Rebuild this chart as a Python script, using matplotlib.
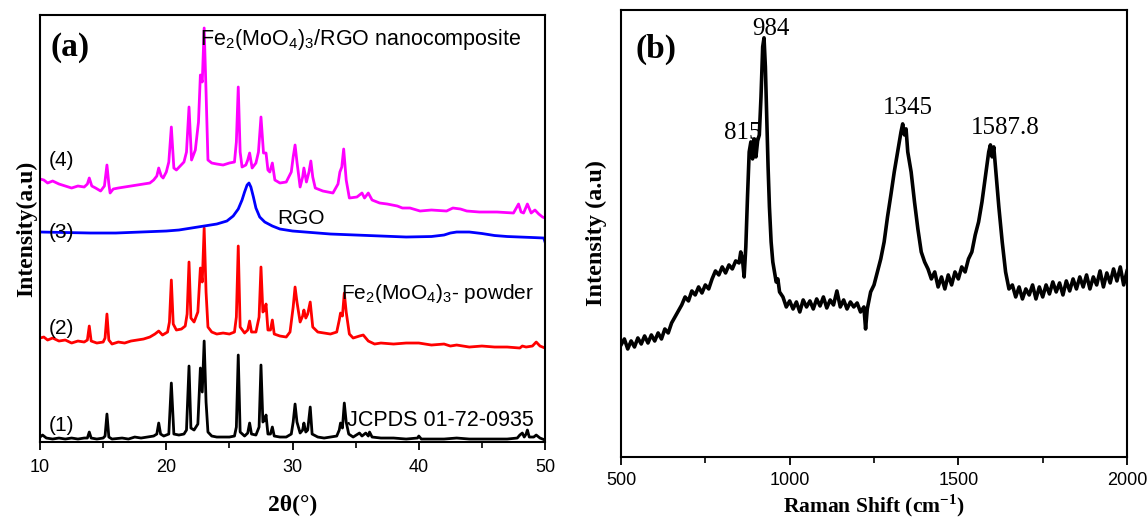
import matplotlib
matplotlib.use("Agg")
import matplotlib.pyplot as plt
from matplotlib.ticker import MultipleLocator

plt.rcParams['mathtext.fontset'] = 'custom'
plt.rcParams['mathtext.rm'] = 'Liberation Sans'
plt.rcParams['mathtext.it'] = 'Liberation Sans:italic'
plt.rcParams['mathtext.bf'] = 'Liberation Sans:bold'

# ---------------- Panel (a): XRD data ----------------
jcpds_theta = [10.0, 10.2, 10.5, 11.0, 11.5, 12.0, 12.5, 13.0, 13.5, 13.75, 13.9, 14.05, 14.5, 15.0, 15.15,
               15.3, 15.45, 15.7, 16.5, 17.0, 17.5, 18.0, 18.5, 19.0, 19.25, 19.4, 19.55, 19.8, 20.2, 20.4,
               20.6, 21.0, 21.4, 21.6, 21.8, 21.95, 22.2, 22.5, 22.7, 22.85, 23.0, 23.15, 23.3, 23.6, 24.0,
               24.5, 25.0, 25.4, 25.55, 25.7, 25.85, 26.2, 26.45, 26.6, 26.75, 27.1, 27.35, 27.5, 27.65, 27.8,
               27.9, 28.05, 28.25, 28.4, 28.55, 29.0, 29.5, 29.9, 30.05, 30.2, 30.35, 30.6, 30.8, 30.9, 31.05,
               31.2, 31.4, 31.55, 32.0, 32.5, 33.0, 33.5, 33.7, 33.8, 33.95, 34.1, 34.25, 34.45, 34.8, 35.3,
               35.5, 35.8, 36.0, 36.1, 36.3, 37.0, 38.0, 39.0, 39.9, 40.0, 40.2, 41.0, 42.0, 43.0, 44.0,
               45.0, 46.0, 47.0, 47.8, 48.0, 48.2, 48.35, 48.5, 48.6, 48.75, 49.1, 49.3, 49.6, 50.0]
jcpds_int = [5, 7, 4, 3, 4, 3, 4, 3, 4, 4, 10, 4, 3, 4, 6,
             28, 5, 3, 4, 3, 5, 4, 5, 6, 8, 19, 8, 6, 8, 59,
             8, 7, 8, 12, 76, 14, 12, 18, 74, 50, 101, 40, 10, 6, 5,
             5, 5, 6, 15, 87, 10, 6, 9, 19, 8, 7, 15, 77, 20, 22,
             27, 8, 8, 15, 6, 5, 5, 8, 20, 38, 20, 9, 12, 19, 10,
             12, 35, 8, 5, 4, 5, 6, 12, 19, 14, 39, 20, 8, 5, 9,
             6, 9, 6, 10, 5, 4, 4, 3, 4, 6, 3, 3, 3, 4, 3,
             3, 3, 3, 4, 7, 9, 5, 8, 12, 5, 5, 7, 4, 2]

powder_theta = [10.0, 10.3, 10.6, 11.0, 11.5, 12.0, 12.5, 13.0, 13.5, 13.75, 13.9, 14.05, 14.5, 15.0, 15.15,
                15.3, 15.45, 15.7, 16.2, 16.7, 17.2, 17.7, 18.2, 18.7, 19.1, 19.4, 19.7, 20.1, 20.25, 20.4,
                20.55, 20.8, 21.2, 21.5, 21.65, 21.8, 21.95, 22.2, 22.5, 22.7, 22.85, 23.0, 23.15, 23.3, 23.6,
                24.0, 24.5, 25.0, 25.4, 25.55, 25.7, 25.85, 26.2, 26.45, 26.6, 26.75, 27.1, 27.35, 27.5, 27.65,
                27.8, 27.9, 28.05, 28.25, 28.4, 28.55, 29.0, 29.5, 29.8, 30.05, 30.2, 30.35, 30.6, 30.8, 30.9,
                31.05, 31.2, 31.4, 31.6, 32.0, 32.5, 33.0, 33.5, 33.7, 33.8, 33.95, 34.1, 34.25, 34.5, 34.8,
                35.3, 35.6, 36.0, 36.5, 37.0, 38.0, 39.0, 40.0, 41.0, 42.0, 42.5, 43.0, 44.0, 45.0, 46.0,
                47.0, 48.0, 48.2, 48.5, 49.0, 49.3, 49.6, 50.0]
powder_int = [104, 105, 102, 104, 101, 102, 99, 101, 100, 102, 116, 101, 99, 100, 104,
              128, 102, 98, 100, 99, 101, 102, 103, 105, 108, 111, 107, 110, 120, 162,
              118, 112, 113, 116, 128, 180, 124, 120, 130, 174, 160, 214, 150, 115, 110,
              108, 109, 108, 110, 125, 196, 115, 109, 112, 121, 110, 110, 125, 175, 130,
              132, 138, 112, 112, 122, 108, 106, 105, 110, 135, 155, 140, 120, 126, 132,
              124, 128, 140, 115, 110, 109, 108, 110, 122, 129, 126, 149, 130, 108, 104,
              106, 107, 101, 98, 99, 98, 99, 99, 97, 98, 96, 97, 95, 96, 95,
              95, 94, 96, 95, 96, 100, 96, 94]

rgo_theta = [10, 12, 14, 16, 18, 20, 21, 22, 23, 24, 24.8, 25.3, 25.7, 26.0, 26.2, 26.4, 26.55, 26.7,
             26.9, 27.1, 27.4, 27.8, 28.4, 29, 30, 31, 32, 33, 35, 37, 39, 41, 42, 42.5, 43, 44, 45,
             46, 47, 48, 49, 49.9, 50]
rgo_int = [210, 209.5, 209, 209, 210, 211, 212, 214, 216, 218, 221, 226, 233, 242, 250, 257, 259, 255,
           245, 234, 225, 220, 216, 213, 211, 210, 209, 208, 207, 206, 205, 205.5, 207, 209, 210, 210, 208.5,
           206.5, 205.5, 205, 204.5, 204, 200]

comp_theta = [10.0, 10.3, 10.6, 11.0, 11.5, 12.0, 12.5, 13.0, 13.5, 13.75, 13.9, 14.1, 14.4, 14.8, 15.1,
              15.3, 15.45, 15.55, 15.8, 16.2, 16.7, 17.2, 17.7, 18.2, 18.7, 19.0, 19.25, 19.4, 19.6, 19.75,
              20.0, 20.2, 20.4, 20.6, 20.8, 21.1, 21.4, 21.6, 21.8, 22.0, 22.3, 22.55, 22.7, 22.85, 23.0,
              23.15, 23.3, 23.6, 24.0, 24.5, 25.0, 25.4, 25.55, 25.7, 25.85, 26.0, 26.3, 26.45, 26.6, 26.8,
              27.1, 27.3, 27.5, 27.7, 27.9, 28.05, 28.2, 28.4, 28.6, 29.0, 29.5, 29.9, 30.05, 30.2, 30.35,
              30.6, 30.8, 30.9, 31.1, 31.3, 31.45, 31.6, 31.8, 32.4, 33.2, 33.6, 33.75, 33.9, 34.05, 34.25,
              34.5, 35.1, 35.5, 35.7, 36.0, 36.3, 36.9, 37.5, 38.3, 38.7, 39.3, 40.1, 41.0, 42.2, 42.7,
              43.3, 43.8, 44.8, 46.2, 47.5, 47.9, 48.1, 48.3, 48.6, 48.9, 49.2, 49.5, 49.8, 50.0]
comp_int = [263, 262, 259, 261, 258, 256, 254, 256, 255, 258, 264, 256, 254, 251, 256,
            277, 258, 249, 253, 254, 255, 256, 257, 258, 259, 262, 266, 274, 266, 264,
            270, 280, 315, 274, 272, 276, 280, 290, 335, 282, 292, 320, 367, 360, 414,
            350, 282, 279, 278, 277, 279, 280, 300, 355, 290, 275, 277, 282, 289, 274,
            279, 290, 325, 289, 289, 272, 270, 279, 262, 259, 260, 270, 285, 297, 280,
            255, 265, 274, 260, 270, 281, 265, 254, 251, 249, 258, 270, 275, 293, 262,
            244, 245, 249, 244, 249, 242, 239, 238, 236, 234, 234, 231, 232, 231, 234,
            233, 231, 230, 230, 229, 238, 230, 229, 238, 229, 232, 228, 225, 224]

xrd_ticks = [10, 20, 30, 40, 50]

# ---------------- Panel (b): Raman data ----------------
raman_shift = [500, 510, 520, 530, 540, 550, 560, 570, 580, 590, 600, 610, 620, 630, 640, 650, 660, 670,
               680, 690, 700, 710, 720, 730, 740, 750, 760, 770, 780, 790, 800, 810, 820, 830, 840, 850,
               855, 860, 865, 870, 875, 880, 885, 890, 895, 900, 905, 910, 915, 920, 924, 928, 932, 936,
               940, 945, 950, 955, 960, 965, 970, 980, 990, 1000, 1010, 1020, 1030, 1040, 1050, 1060, 1070,
               1080, 1090, 1100, 1110, 1120, 1130, 1140, 1150, 1160, 1170, 1180, 1190, 1200, 1210, 1220,
               1225, 1230, 1240, 1250, 1260, 1270, 1280, 1290, 1300, 1310, 1320, 1330, 1335, 1340, 1345,
               1350, 1360, 1370, 1380, 1390, 1400, 1410, 1420, 1430, 1440, 1450, 1460, 1470, 1480, 1490,
               1500, 1510, 1520, 1530, 1540, 1550, 1560, 1570, 1580, 1590, 1595, 1600, 1605, 1610, 1615,
               1620, 1630, 1640, 1650, 1660, 1670, 1680, 1690, 1700, 1710, 1720, 1730, 1740, 1750, 1760,
               1770, 1780, 1790, 1800, 1810, 1820, 1830, 1840, 1850, 1860, 1870, 1880, 1890, 1900, 1910,
               1920, 1930, 1940, 1950, 1960, 1970, 1980, 1990, 2000]
raman_int = [112, 118, 108, 116, 110, 119, 113, 121, 114, 122, 116, 124, 118, 128, 124, 134, 140, 146,
             152, 160, 156, 166, 162, 170, 164, 172, 168, 178, 186, 182, 190, 184, 192, 188, 196, 194,
             205, 198, 180, 210, 260, 305, 315, 298, 318, 300, 316, 322, 360, 410, 419, 390, 340, 290,
             250, 215, 195, 185, 175, 178, 165, 160, 150, 156, 148, 155, 145, 157, 150, 156, 148,
             158, 151, 160, 149, 157, 152, 166, 150, 157, 148, 155, 150, 154, 145, 150,
             128, 148, 165, 172, 185, 198, 215, 240, 262, 285, 305, 325, 333, 322, 328,
             305, 285, 255, 228, 205, 195, 188, 178, 185, 170, 180, 168, 182, 172, 185,
             178, 190, 185, 198, 205, 222, 235, 255, 280, 305, 312, 300, 310, 290, 270,
             250, 215, 185, 168, 172, 160, 170, 158, 168, 162, 172, 158, 170, 160, 172,
             163, 175, 165, 174, 162, 176, 166, 178, 168, 180, 170, 182, 168, 180, 172,
             186, 170, 184, 174, 188, 176, 190, 172, 186]

raman_ticks = [500, 1000, 1500, 2000]
raman_peak_labels = ["815", "984", "1345", "1587.8"]

# ---------------- Figure ----------------
fig = plt.figure(figsize=(11.47, 5.17), dpi=100)
axa = fig.add_axes([0.0349, 0.145, 0.4403, 0.826])
axb = fig.add_axes([0.5414, 0.116, 0.4412, 0.865])

lw = 2.0
axa.plot(jcpds_theta, jcpds_int, color='black', lw=lw)
axa.plot(powder_theta, powder_int, color='#FF0000', lw=lw)
axa.plot(rgo_theta, rgo_int, color='#0000FF', lw=lw)
axa.plot(comp_theta, comp_int, color='#FF00FF', lw=lw)

axa.set_xlim(10, 50)
axa.set_ylim(0, 427)
axa.set_yticks([])
axa.set_xticks(xrd_ticks)
axa.xaxis.set_minor_locator(MultipleLocator(5))
axa.tick_params(axis='x', which='major', direction='out', length=6, width=1.3, labelsize=13, pad=6)
axa.tick_params(axis='x', which='minor', direction='out', length=4, width=1.2)
for lab in axa.get_xticklabels():
    lab.set_fontfamily('Liberation Sans')
for s in axa.spines.values():
    s.set_linewidth(1.5)

sans = 'Liberation Sans'
serif = 'Liberation Serif'
axa.text(10.8, 394, '(a)', fontfamily=serif, fontweight='bold', fontsize=24, va='center', ha='left')
axa.text(22.7, 402, 'Fe$_2$(MoO$_4$)$_3$/RGO nanocomposite', fontfamily=sans, fontsize=15.5,
         va='center', ha='left')
axa.text(28.8, 224, 'RGO', fontfamily=sans, fontsize=15, va='center', ha='left')
axa.text(33.8, 149, 'Fe$_2$(MoO$_4$)$_3$- powder', fontfamily=sans, fontsize=15, va='center', ha='left')
axa.text(34.3, 22, 'JCPDS 01-72-0935', fontfamily=sans, fontsize=15.5, va='center', ha='left')
for lbl, yy in [('(4)', 282), ('(3)', 210), ('(2)', 114), ('(1)', 17)]:
    axa.text(11.7, yy, lbl, fontfamily=sans, fontsize=15, va='center', ha='center')

axa.set_ylabel('Intensity(a.u)', fontfamily=serif, fontweight='bold', fontsize=17, labelpad=2)
axa.set_xlabel('2θ(°)', fontfamily=serif, fontweight='bold', fontsize=17, labelpad=14)

# Panel b
axb.plot(raman_shift, raman_int, color='black', lw=2.6)
axb.set_xlim(500, 2000)
axb.set_ylim(0, 447)
axb.set_yticks([])
axb.set_xticks(raman_ticks)
axb.xaxis.set_minor_locator(MultipleLocator(250))
axb.tick_params(axis='x', which='major', direction='out', length=6, width=1.3, labelsize=13, pad=5)
axb.tick_params(axis='x', which='minor', direction='out', length=4, width=1.2)
for lab in axb.get_xticklabels():
    lab.set_fontfamily('Liberation Sans')
for s in axb.spines.values():
    s.set_linewidth(1.5)

axb.text(544, 407, '(b)', fontfamily=serif, fontweight='bold', fontsize=24, va='center', ha='left')
peak_pos = [(860, 324), (945, 428), (1350, 349), (1640, 329)]
for txt, (px, py) in zip(raman_peak_labels, peak_pos):
    axb.text(px, py, txt, fontfamily=serif, fontsize=18, va='center', ha='center')

axb.set_ylabel('Intensity (a.u)', fontfamily=serif, fontweight='bold', fontsize=17.5, labelpad=10)
axb.set_xlabel('Raman Shift (cm$^{\\mathregular{-1}}$)', fontfamily=serif, fontweight='bold', fontsize=15.5,
               labelpad=2)

fig.savefig('out.png', dpi=100)
